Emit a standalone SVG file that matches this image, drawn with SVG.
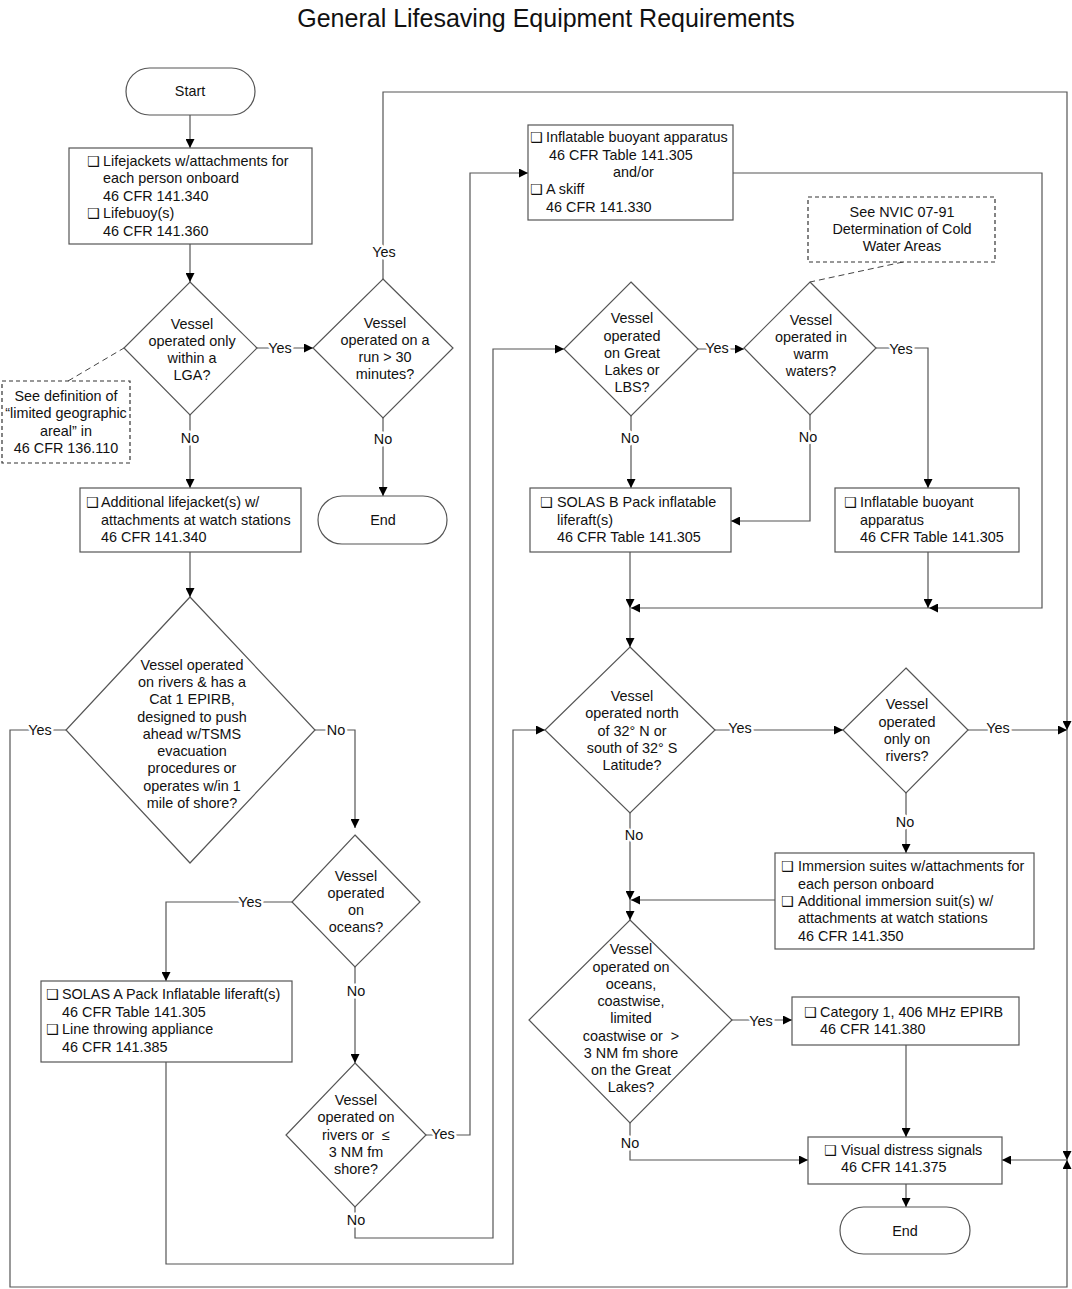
<svg xmlns="http://www.w3.org/2000/svg" width="1072" height="1289" viewBox="0 0 1072 1289">
<defs>
<marker id="ah" viewBox="0 0 10 10" refX="10" refY="5" markerWidth="11" markerHeight="9" markerUnits="userSpaceOnUse" orient="auto">
<path d="M0,0 L10,5 L0,10 z" fill="#000"/>
</marker>
<style>
text{font-family:"Liberation Sans",Arial,sans-serif;font-size:14.4px;fill:#111}
.c{text-anchor:middle}
.cb{font-family:"DejaVu Sans",sans-serif;font-size:14px;font-weight:bold}
.shape{fill:#fff;stroke:#555;stroke-width:1.2}
.note{fill:#fff;stroke:#333;stroke-width:1.2;stroke-dasharray:4 3}
.ln{fill:none;stroke:#555;stroke-width:1.2}
.dash{fill:none;stroke:#444;stroke-width:1;stroke-dasharray:6 4}
.ar{marker-end:url(#ah)}
.lbl{text-anchor:middle;paint-order:stroke;stroke:#fff;stroke-width:5px;stroke-linejoin:round}
.title{font-size:25px;text-anchor:middle}
</style>
</defs>
<rect width="1072" height="1289" fill="#fff"/>
<text class="title" x="546" y="27">General Lifesaving Equipment Requirements</text>

<g id="connectors">
<path class="ln ar" d="M190 115 V148"/>
<path class="ln ar" d="M190 244 V282"/>
<path class="ln ar" d="M257 348 H313"/>
<path class="ln ar" d="M190 415 V488"/>
<path class="ln ar" d="M383 279 V92 H1067 V730"/>
<path class="ln ar" d="M383 418 V496"/>
<path class="dash" d="M68 381 L124 348"/>
<path class="ln ar" d="M190 552 V597"/>
<path class="ln ar" d="M66 730 H10 V1287 H1067 V1160"/>
<path class="ln ar" d="M315 730 H355 V828"/>
<path class="ln ar" d="M292 902 H166 V981"/>
<path class="ln ar" d="M355 967 V1063"/>
<path class="ln ar" d="M166 1062 V1264 H513 V730 H545"/>
<path class="ln ar" d="M425 1135 H470 V173 H528"/>
<path class="ln ar" d="M355 1207 V1238 H493 V349 H564"/>
<path class="ln ar" d="M733 173 H1042 V608 H929"/>
<path class="ln ar" d="M929 608 H631"/>
<path class="dash" d="M903 262 L810 282"/>
<path class="ln ar" d="M698 349 H744"/>
<path class="ln ar" d="M876 348 H928 V488"/>
<path class="ln ar" d="M631 416 V488"/>
<path class="ln ar" d="M810 415 V521 H731"/>
<path class="ln ar" d="M630 552 V608"/>
<path class="ln ar" d="M928 552 V608"/>
<path class="ln ar" d="M630 608 V647"/>
<path class="ln ar" d="M715 730 H843"/>
<path class="ln ar" d="M968 730 H1067"/>
<path class="ln ar" d="M906 793 V853"/>
<path class="ln ar" d="M775 900 H631"/>
<path class="ln ar" d="M630 813 V900"/>
<path class="ln ar" d="M630 900 V920"/>
<path class="ln ar" d="M732 1020 H792"/>
<path class="ln ar" d="M906 1045 V1137"/>
<path class="ln ar" d="M630 1123 V1160 H808"/>
<path class="ln ar" d="M1067 730 V1160"/>
<path class="ln ar" d="M1067 1160 H1002"/>
<path class="ln ar" d="M906 1184 V1207"/>
<text class="lbl" x="280" y="353">Yes</text>
<text class="lbl" x="190" y="443">No</text>
<text class="lbl" x="384" y="257">Yes</text>
<text class="lbl" x="383" y="444">No</text>
<text class="lbl" x="40" y="735">Yes</text>
<text class="lbl" x="336" y="735">No</text>
<text class="lbl" x="250" y="907">Yes</text>
<text class="lbl" x="356" y="996">No</text>
<text class="lbl" x="443" y="1139">Yes</text>
<text class="lbl" x="356" y="1225">No</text>
<text class="lbl" x="717" y="353">Yes</text>
<text class="lbl" x="630" y="443">No</text>
<text class="lbl" x="901" y="354">Yes</text>
<text class="lbl" x="808" y="442">No</text>
<text class="lbl" x="740" y="733">Yes</text>
<text class="lbl" x="634" y="840">No</text>
<text class="lbl" x="998" y="733">Yes</text>
<text class="lbl" x="905" y="827">No</text>
<text class="lbl" x="761" y="1026">Yes</text>
<text class="lbl" x="630" y="1148">No</text>
</g>

<g id="start">
<rect class="shape" x="126" y="68" width="129" height="47" rx="23.5"/>
<text class="c" x="190" y="96">Start</text>
</g>

<g id="box1">
<rect class="shape" x="69" y="148" width="243" height="96"/>
<text x="87" y="166"><tspan class="cb">❑</tspan><tspan x="103">Lifejackets w/attachments for</tspan></text>
<text x="103" y="183">each person onboard</text>
<text x="103" y="201">46 CFR 141.340</text>
<text x="87" y="218"><tspan class="cb">❑</tspan><tspan x="103">Lifebuoy(s)</tspan></text>
<text x="103" y="236">46 CFR 141.360</text>
</g>

<g id="d1">
<polygon class="shape" points="190,282 257,348 190,415 124,348"/>
<text class="c" x="192" y="329">Vessel</text>
<text class="c" x="192" y="346">operated only</text>
<text class="c" x="192" y="363">within a</text>
<text class="c" x="192" y="380">LGA?</text>
</g>

<g id="note1">
<rect class="note" x="2" y="381" width="128" height="82"/>
<text class="c" x="66" y="401">See definition of</text>
<text class="c" x="66" y="418">“limited geographic</text>
<text class="c" x="66" y="436">areal” in</text>
<text class="c" x="66" y="453">46 CFR 136.110</text>
</g>

<g id="d2">
<polygon class="shape" points="383,279 453,348 383,418 313,348"/>
<text class="c" x="385" y="328">Vessel</text>
<text class="c" x="385" y="345">operated on a</text>
<text class="c" x="385" y="362">run &gt; 30</text>
<text class="c" x="385" y="379">minutes?</text>
</g>

<g id="end1">
<rect class="shape" x="318" y="496" width="129" height="48" rx="24"/>
<text class="c" x="383" y="525">End</text>
</g>

<g id="box2">
<rect class="shape" x="80" y="488" width="221" height="64"/>
<text x="86" y="507"><tspan class="cb">❑</tspan><tspan x="101">Additional lifejacket(s) w/</tspan></text>
<text x="101" y="525">attachments at watch stations</text>
<text x="101" y="542">46 CFR 141.340</text>
</g>

<g id="d3">
<polygon class="shape" points="190,597 315,730 190,863 66,730"/>
<text class="c" x="192" y="670">Vessel operated</text>
<text class="c" x="192" y="687">on rivers &amp; has a</text>
<text class="c" x="192" y="704">Cat 1 EPIRB,</text>
<text class="c" x="192" y="722">designed to push</text>
<text class="c" x="192" y="739">ahead w/TSMS</text>
<text class="c" x="192" y="756">evacuation</text>
<text class="c" x="192" y="773">procedures or</text>
<text class="c" x="192" y="791">operates w/in 1</text>
<text class="c" x="192" y="808">mile of shore?</text>
</g>

<g id="d4">
<polygon class="shape" points="355,835 420,902 355,967 292,902"/>
<text class="c" x="356" y="881">Vessel</text>
<text class="c" x="356" y="898">operated</text>
<text class="c" x="356" y="915">on</text>
<text class="c" x="356" y="932">oceans?</text>
</g>

<g id="box3">
<rect class="shape" x="41" y="981" width="251" height="81"/>
<text x="46" y="999"><tspan class="cb">❑</tspan><tspan x="62">SOLAS A Pack Inflatable liferaft(s)</tspan></text>
<text x="62" y="1017">46 CFR Table 141.305</text>
<text x="46" y="1034"><tspan class="cb">❑</tspan><tspan x="62">Line throwing appliance</tspan></text>
<text x="62" y="1052">46 CFR 141.385</text>
</g>

<g id="d5">
<polygon class="shape" points="355,1063 426,1135 355,1207 286,1135"/>
<text class="c" x="356" y="1105">Vessel</text>
<text class="c" x="356" y="1122">operated on</text>
<text class="c" x="356" y="1140">rivers or&#160;&#160;≤</text>
<text class="c" x="356" y="1157">3 NM fm</text>
<text class="c" x="356" y="1174">shore?</text>
</g>

<g id="box4">
<rect class="shape" x="528" y="125" width="205" height="95"/>
<text x="530" y="142"><tspan class="cb">❑</tspan><tspan x="546">Inflatable buoyant apparatus</tspan></text>
<text x="549" y="160">46 CFR Table 141.305</text>
<text x="613" y="177">and/or</text>
<text x="530" y="194"><tspan class="cb">❑</tspan><tspan x="546">A skiff</tspan></text>
<text x="546" y="212">46 CFR 141.330</text>
</g>

<g id="note2">
<rect class="note" x="808" y="197" width="187" height="65"/>
<text class="c" x="902" y="217">See NVIC 07-91</text>
<text class="c" x="902" y="234">Determination of Cold</text>
<text class="c" x="902" y="251">Water Areas</text>
</g>

<g id="d7">
<polygon class="shape" points="631,282 698,349 631,416 564,349"/>
<text class="c" x="632" y="323">Vessel</text>
<text class="c" x="632" y="341">operated</text>
<text class="c" x="632" y="358">on Great</text>
<text class="c" x="632" y="375">Lakes or</text>
<text class="c" x="632" y="392">LBS?</text>
</g>

<g id="d8">
<polygon class="shape" points="810,282 876,348 810,415 744,348"/>
<text class="c" x="811" y="325">Vessel</text>
<text class="c" x="811" y="342">operated in</text>
<text class="c" x="811" y="359">warm</text>
<text class="c" x="811" y="376">waters?</text>
</g>

<g id="box5">
<rect class="shape" x="530" y="488" width="201" height="64"/>
<text x="540" y="507"><tspan class="cb">❑</tspan><tspan x="557">SOLAS B Pack inflatable</tspan></text>
<text x="557" y="525">liferaft(s)</text>
<text x="557" y="542">46 CFR Table 141.305</text>
</g>

<g id="box6">
<rect class="shape" x="835" y="488" width="184" height="64"/>
<text x="844" y="507"><tspan class="cb">❑</tspan><tspan x="860">Inflatable buoyant</tspan></text>
<text x="860" y="525">apparatus</text>
<text x="860" y="542">46 CFR Table 141.305</text>
</g>

<g id="d6">
<polygon class="shape" points="630,647 715,730 630,813 545,730"/>
<text class="c" x="632" y="701">Vessel</text>
<text class="c" x="632" y="718">operated north</text>
<text class="c" x="632" y="736">of 32° N or</text>
<text class="c" x="632" y="753">south of 32° S</text>
<text class="c" x="632" y="770">Latitude?</text>
</g>

<g id="d9">
<polygon class="shape" points="906,668 968,730 906,793 843,730"/>
<text class="c" x="907" y="709">Vessel</text>
<text class="c" x="907" y="727">operated</text>
<text class="c" x="907" y="744">only on</text>
<text class="c" x="907" y="761">rivers?</text>
</g>

<g id="box7">
<rect class="shape" x="775" y="853" width="259" height="96"/>
<text x="781" y="871"><tspan class="cb">❑</tspan><tspan x="798">Immersion suites w/attachments for</tspan></text>
<text x="798" y="889">each person onboard</text>
<text x="781" y="906"><tspan class="cb">❑</tspan><tspan x="798">Additional immersion suit(s) w/</tspan></text>
<text x="798" y="923">attachments at watch stations</text>
<text x="798" y="941">46 CFR 141.350</text>
</g>

<g id="d10">
<polygon class="shape" points="630,920 732,1020 630,1123 529,1020"/>
<text class="c" x="631" y="954">Vessel</text>
<text class="c" x="631" y="972">operated on</text>
<text class="c" x="631" y="989">oceans,</text>
<text class="c" x="631" y="1006">coastwise,</text>
<text class="c" x="631" y="1023">limited</text>
<text class="c" x="631" y="1041">coastwise or&#160;&#160;&gt;</text>
<text class="c" x="631" y="1058">3 NM fm shore</text>
<text class="c" x="631" y="1075">on the Great</text>
<text class="c" x="631" y="1092">Lakes?</text>
</g>

<g id="box8">
<rect class="shape" x="792" y="997" width="227" height="48"/>
<text x="804" y="1017"><tspan class="cb">❑</tspan><tspan x="820">Category 1, 406 MHz EPIRB</tspan></text>
<text x="820" y="1034">46 CFR 141.380</text>
</g>

<g id="box9">
<rect class="shape" x="808" y="1137" width="194" height="47"/>
<text x="824" y="1155"><tspan class="cb">❑</tspan><tspan x="841">Visual distress signals</tspan></text>
<text x="841" y="1172">46 CFR 141.375</text>
</g>

<g id="end2">
<rect class="shape" x="840" y="1207" width="130" height="47" rx="23.5"/>
<text class="c" x="905" y="1236">End</text>
</g>
</svg>
